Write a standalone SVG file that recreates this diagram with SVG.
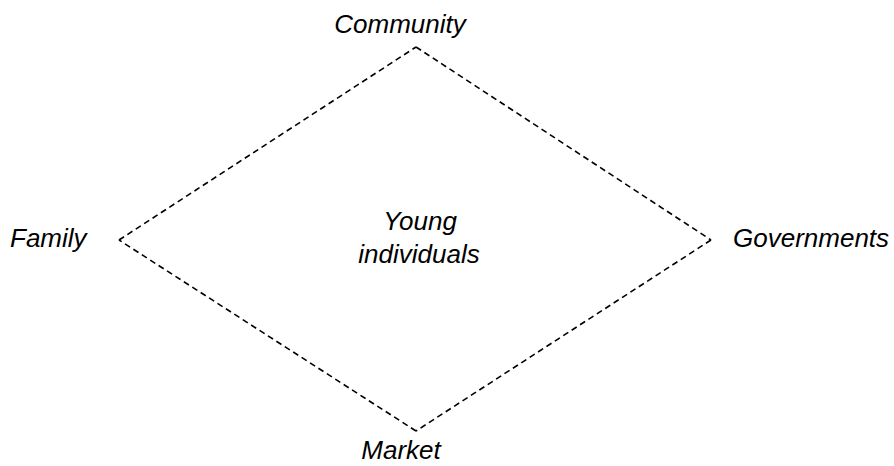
<svg xmlns="http://www.w3.org/2000/svg" width="894" height="466" viewBox="0 0 894 466">
<style>
.lbl{font-family:"Liberation Sans",Arial,sans-serif;font-style:italic;font-size:26px;fill:#000}
.edge{fill:none;stroke:#000;stroke-width:1.6;stroke-dasharray:6,4}
</style>
<rect width="894" height="466" fill="#fff"/>
<g id="connectors">
<path class="edge" d="M416,47 L711,240"/>
<path class="edge" d="M711,240 L416,431"/>
<path class="edge" d="M416,431 L119,240"/>
<path class="edge" d="M119,240 L416,47"/>
</g>
<g id="community"><text class="lbl" x="400" y="33" text-anchor="middle">Community</text></g>
<g id="family"><text class="lbl" x="10" y="247">Family</text></g>
<g id="governments"><text class="lbl" x="733" y="247">Governments</text></g>
<g id="market"><text class="lbl" x="401" y="459" text-anchor="middle">Market</text></g>
<g id="young"><text class="lbl" text-anchor="middle"><tspan x="420" y="230">Young</tspan><tspan x="419" y="263">individuals</tspan></text></g>
</svg>
